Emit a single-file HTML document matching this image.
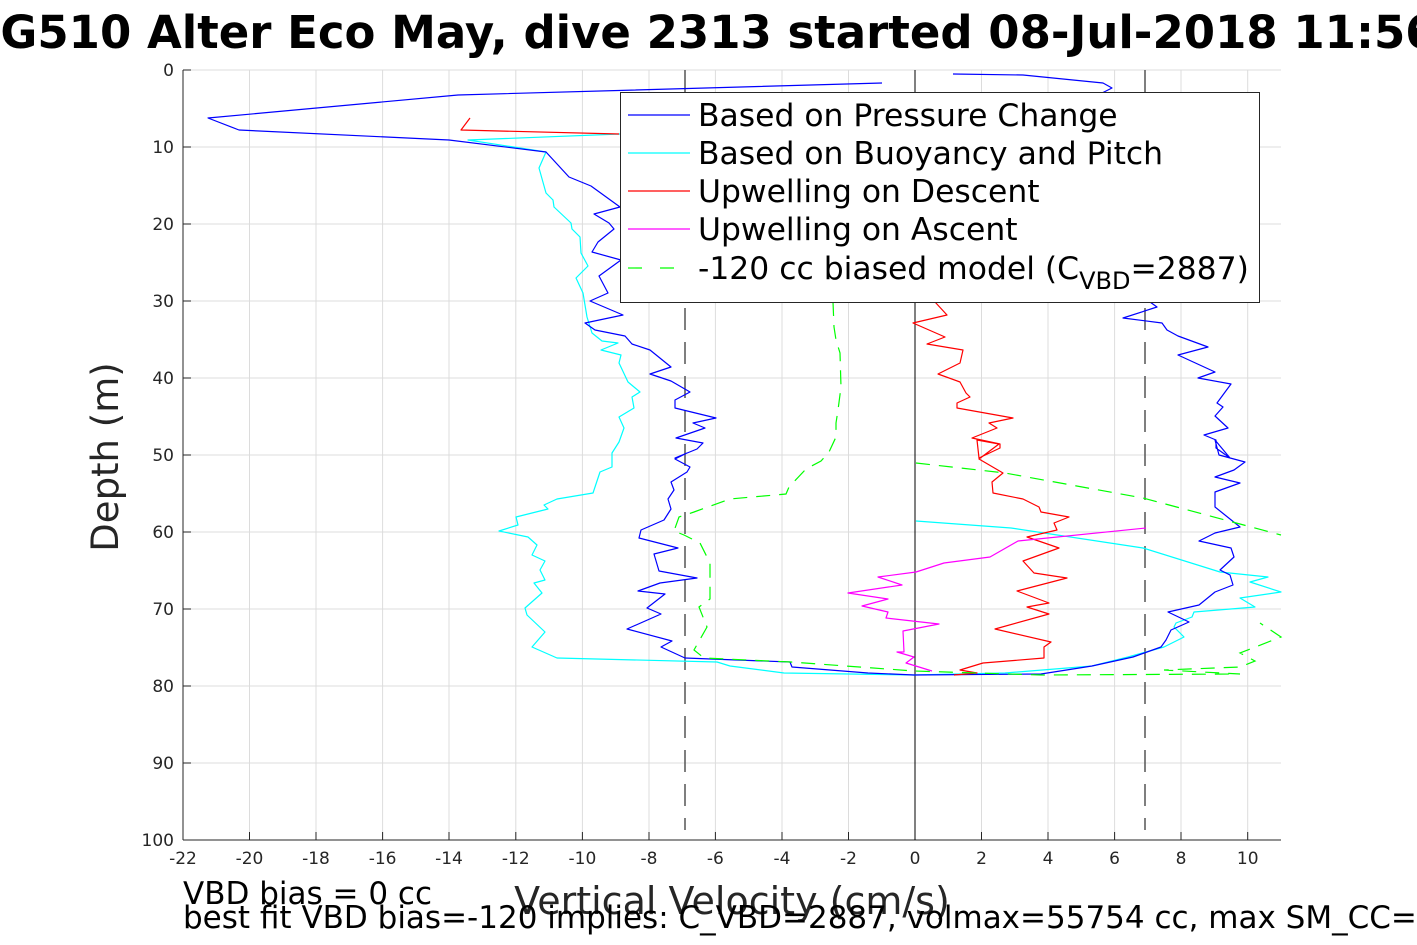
<!DOCTYPE html>
<html><head><meta charset="utf-8"><style>
body{margin:0;background:#fff;width:1417px;height:945px;overflow:hidden}
svg{display:block}
text{font-family:"DejaVu Sans","Liberation Sans",sans-serif}
</style></head><body>
<svg width="1417" height="945" viewBox="0 0 1417 945" xmlns="http://www.w3.org/2000/svg">
<rect width="1417" height="945" fill="#fff"/>
<text x="-32" y="48" font-size="45" font-weight="bold" fill="#000">SG510 Alter Eco May, dive 2313 started 08-Jul-2018 11:56</text>
<g stroke="#dcdcdc" stroke-width="1">
<line x1="249.5" y1="70" x2="249.5" y2="840"/><line x1="316" y1="70" x2="316" y2="840"/><line x1="382.6" y1="70" x2="382.6" y2="840"/><line x1="449" y1="70" x2="449" y2="840"/><line x1="515.8" y1="70" x2="515.8" y2="840"/><line x1="582.4" y1="70" x2="582.4" y2="840"/><line x1="649" y1="70" x2="649" y2="840"/><line x1="715.4" y1="70" x2="715.4" y2="840"/><line x1="782" y1="70" x2="782" y2="840"/><line x1="848.5" y1="70" x2="848.5" y2="840"/><line x1="981.5" y1="70" x2="981.5" y2="840"/><line x1="1048" y1="70" x2="1048" y2="840"/><line x1="1114.6" y1="70" x2="1114.6" y2="840"/><line x1="1181" y1="70" x2="1181" y2="840"/><line x1="1247.7" y1="70" x2="1247.7" y2="840"/>
<line x1="183" y1="70" x2="1281" y2="70"/><line x1="183" y1="147" x2="1281" y2="147"/><line x1="183" y1="224" x2="1281" y2="224"/><line x1="183" y1="301" x2="1281" y2="301"/><line x1="183" y1="378" x2="1281" y2="378"/><line x1="183" y1="455" x2="1281" y2="455"/><line x1="183" y1="532" x2="1281" y2="532"/><line x1="183" y1="609" x2="1281" y2="609"/><line x1="183" y1="686" x2="1281" y2="686"/><line x1="183" y1="763" x2="1281" y2="763"/>
</g>
<g stroke="#262626" stroke-width="1" fill="none">
<line x1="183" y1="70" x2="183" y2="840"/><line x1="183" y1="840" x2="1281" y2="840"/>
<path d="M183 70h8M183 147h8M183 224h8M183 301h8M183 378h8M183 455h8M183 532h8M183 609h8M183 686h8M183 763h8M249.5 840v-8M316 840v-8M382.6 840v-8M449 840v-8M515.8 840v-8M582.4 840v-8M649 840v-8M715.4 840v-8M782 840v-8M848.5 840v-8M915 840v-8M981.5 840v-8M1048 840v-8M1114.6 840v-8M1181 840v-8M1247.7 840v-8"/>
</g>
<g font-size="17" fill="#262626" text-anchor="end">
<text x="174" y="76">0</text><text x="174" y="153">10</text><text x="174" y="230">20</text><text x="174" y="307">30</text><text x="174" y="384">40</text><text x="174" y="461">50</text><text x="174" y="538">60</text><text x="174" y="615">70</text><text x="174" y="692">80</text><text x="174" y="769">90</text><text x="174" y="846">100</text>
</g>
<g font-size="17" fill="#262626" text-anchor="middle">
<text x="183" y="864">-22</text><text x="249.5" y="864">-20</text><text x="316" y="864">-18</text><text x="382.6" y="864">-16</text><text x="449" y="864">-14</text><text x="515.8" y="864">-12</text><text x="582.4" y="864">-10</text><text x="649" y="864">-8</text><text x="715.4" y="864">-6</text><text x="782" y="864">-4</text><text x="848.5" y="864">-2</text><text x="915" y="864">0</text><text x="981.5" y="864">2</text><text x="1048" y="864">4</text><text x="1114.6" y="864">6</text><text x="1181" y="864">8</text><text x="1247.7" y="864">10</text>
</g>
<text transform="translate(118,457) rotate(-90)" font-size="37" fill="#262626" text-anchor="middle">Depth (m)</text>
<text x="732" y="914" font-size="38" fill="#262626" text-anchor="middle">Vertical Velocity (cm/s)</text>
<line x1="915" y1="70" x2="915" y2="840" stroke="#000" stroke-width="1"/>
<g stroke="#555" stroke-width="1.5" stroke-dasharray="22,12"><line x1="685" y1="70" x2="685" y2="830"/><line x1="1145" y1="70" x2="1145" y2="830"/></g>
<g fill="none" stroke-width="1.2" stroke-linejoin="round">
<polyline stroke="#00ffff" points="620,134 468,140 546,152 539,168 546,193 553,200 554,207 571,223 572,229 580,237 581,253 588,266 576,278 583,293 587,317 592,333 602,341 618,343 601,350 621,355 619,363 628,382 640,392 632,397 634,408 619,417 624,428 619,442 612,453 612,467 600,472 593,493 557,499 544,505 548,509 516,517 518,525 499,531 528,537 537,545 532,555 545,561 540,570 545,580 534,583 542,593 525,608 527,615 545,632 532,647 557,658 717,662 730,666 784,673 914,675 1005,673 1092,666 1128,657 1164,647 1184,637 1174,627 1176,623 1192,617 1194,612 1255,607 1240,598 1281,592 1250,582 1268,577 1220,572 1143,548 1011,528 916,521"/>
<polyline stroke="#0000ff" points="882,83 458,95 208,118 239,130 449,140 546,152 569,177 591,186 620,207 594,214 609,223 614,229 598,242 592,252 621,260 599,276 608,293 590,301 623,315 585,323 595,330 625,336 632,344 650,350 671,367 650,374 671,381 690,392 675,400 675,408 716,418 693,423 705,428 676,438 703,443 697,449 675,458 687,453 675,459 690,467 687,472 671,482 674,490 668,499 671,509 664,520 641,530 639,538 678,548 654,554 659,571 697,578 660,583 638,591 665,594 647,608 661,614 627,629 672,641 661,647 685,658 790,662 792,667 868,673 914,675 1041,674 1092,666 1133,657 1161,647 1166,640 1171,630 1189,622 1168,612 1199,605 1215,592 1233,585 1230,575 1220,570 1234,557 1231,548 1199,541 1215,533 1240,527 1215,507 1215,492 1240,483 1215,477 1234,470 1245,462 1219,455 1215,440 1230,458 1216,448 1216,440 1204,435 1228,428 1215,416 1223,407 1217,403 1231,384 1198,378 1215,372 1178,355 1208,347 1178,336 1167,330 1162,323 1123,318 1157,307 1150,302"/>
<polyline stroke="#0000ff" points="953,74 1023,75 1103,83 1112,88 1100,94"/>
<polyline stroke="#ff0000" points="470,118 461,130 619,134"/>
<polyline stroke="#ff0000" points="935,302 947,315 913,323 945,337 927,344 963,350 960,363 938,374 960,382 966,393 970,397 957,403 957,408 1013,418 989,423 997,428 972,438 1000,444 1000,448 979,458 977,440 999,444 979,459 1003,473 992,482 993,493 1023,499 1039,507 1041,512 1069,517 1054,523 1057,530 1027,537 1059,548 1023,561 1034,573 1067,578 1017,591 1049,603 1027,607 1049,614 995,629 1051,642 1044,647 1044,658 983,663 960,670 977,673 954,675"/>
<polyline stroke="#ff00ff" points="1146,528 1018,541 990,557 944,563 916,572 878,577 902,585 848,593 888,599 862,606 888,612 886,618 939,624 903,631 904,652 897,652 914,657 906,663 932,671"/>
</g>
<g fill="none" stroke="#00ff00" stroke-width="1.2" stroke-dasharray="14,9">
<polyline points="833,302 834,327 836,340 840,353 841,387 838,410 836,423 836,437 829,452 821,461 806,469 789,487 786,494 730,499 694,512 679,517 674,531 684,535 700,543 710,563 710,599 699,607 707,627 694,650 704,658 791,662 914,671 1041,675 1240,674 1164,670 1240,667 1255,661 1240,653 1281,637 1260,623"/>
<polyline points="916,463 1005,473 1143,498 1281,535"/>
</g>
<rect x="620.5" y="92.5" width="639" height="210" fill="#fff" stroke="#262626" stroke-width="1"/>
<g stroke-width="1.2">
<line x1="628" y1="115" x2="690" y2="115" stroke="#0000ff"/>
<line x1="628" y1="153" x2="690" y2="153" stroke="#00ffff"/>
<line x1="628" y1="191" x2="690" y2="191" stroke="#ff0000"/>
<line x1="628" y1="229" x2="690" y2="229" stroke="#ff00ff"/>
<line x1="628" y1="268" x2="690" y2="268" stroke="#00ff00" stroke-dasharray="14,18"/>
</g>
<g font-size="31.4" fill="#000">
<text x="698" y="126">Based on Pressure Change</text>
<text x="698" y="164">Based on Buoyancy and Pitch</text>
<text x="698" y="202">Upwelling on Descent</text>
<text x="698" y="240">Upwelling on Ascent</text>
<text x="698" y="279">-120 cc biased model (C<tspan font-size="24" dy="10">VBD</tspan><tspan dy="-10">=2887)</tspan></text>
</g>
<g font-size="31" fill="#000">
<text x="183" y="904">VBD bias = 0 cc</text>
<text x="183" y="928">best fit VBD bias=-120 implies: C_VBD=2887, volmax=55754 cc, max SM_CC=</text>
</g>
</svg>
</body></html>
